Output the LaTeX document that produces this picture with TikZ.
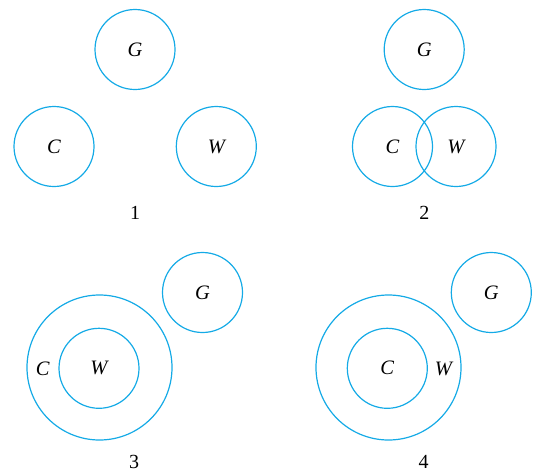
\documentclass[tikz,border=0pt]{standalone}
\usepackage{fontspec}
\setmainfont{Liberation Serif}
\definecolor{setblue}{RGB}{20,170,230}
\begin{document}
\begin{tikzpicture}[x=1pt,y=-1pt,
  setc/.style={circle,draw=setblue,line width=1.2pt,minimum size=80pt,inner sep=0pt,font=\fontsize{20.5}{22}\selectfont\itshape},
  bigc/.style={circle,draw=setblue,line width=1.2pt,minimum size=145pt,inner sep=0pt},
  lbl/.style={inner sep=0pt,font=\fontsize{20.5}{22}\selectfont\itshape},
  num/.style={inner sep=0pt,font=\fontsize{20}{22}\selectfont}]
\useasboundingbox (0,0) rectangle (535,472);
% panel 1
\node[setc] (g1) at (135,49.5) {G};
\node[setc] (c1) at (54,146.5) {C};
\node[setc] (w1) at (216.3,146.5) {W};
\node[num] (n1) at (135,213) {1};
% panel 2
\node[setc] (g2) at (424.2,49.5) {G};
\node[setc] (c2) at (392.5,146.5) {C};
\node[setc] (w2) at (456,146.5) {W};
\node[num] (n2) at (424.3,213) {2};
% panel 3
\node[bigc] (o3) at (99.5,367.5) {};
\node[setc] (w3) at (99,368.3) {W};
\node[lbl] (c3) at (42.7,369) {C};
\node[setc] (g3) at (202.5,292.5) {G};
\node[num] (n3) at (134,461.5) {3};
% panel 4
\node[bigc] (o4) at (388.5,367.5) {};
\node[setc] (c4) at (387.3,368.3) {C};
\node[lbl] (w4) at (443.5,369) {W};
\node[setc] (g4) at (491.3,292.5) {G};
\node[num] (n4) at (423.5,461.5) {4};
\end{tikzpicture}
\end{document}
